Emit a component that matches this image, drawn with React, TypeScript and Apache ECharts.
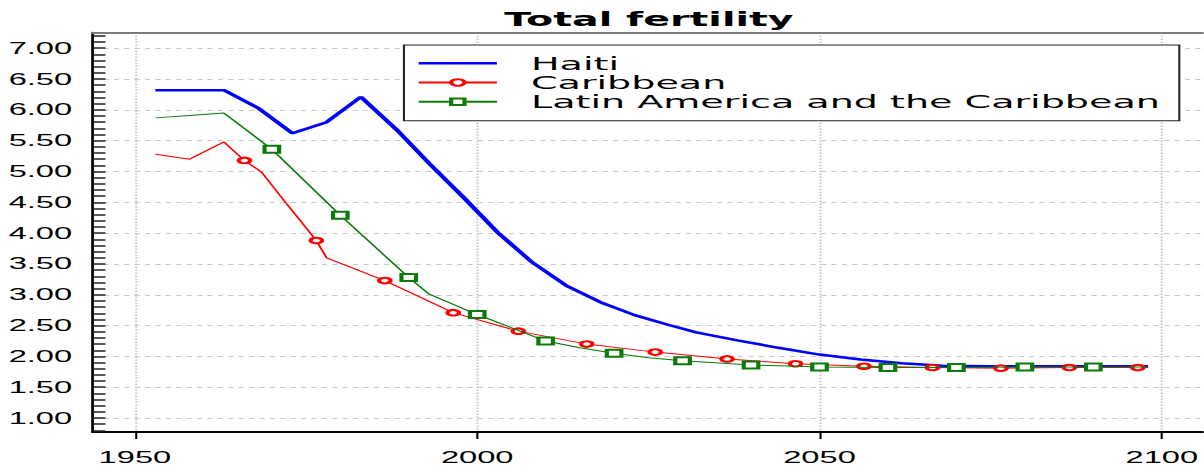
import React, { useEffect, useRef } from 'react';
import * as echarts from 'echarts';

// ---------- data ----------
const haitiYears = [1953, 1958, 1963, 1968, 1973, 1978, 1983, 1988.5, 1993, 1998, 2003, 2008, 2013, 2018, 2023, 2028, 2032, 2038, 2044, 2050, 2056, 2062, 2068, 2075, 2085, 2098];
const haitiTfr = [6.32, 6.32, 6.32, 6.03, 5.62, 5.8, 6.21, 5.65, 5.13, 4.58, 4.01, 3.53, 3.15, 2.88, 2.67, 2.51, 2.39, 2.26, 2.14, 2.03, 1.95, 1.89, 1.85, 1.84, 1.84, 1.84];

const caribYears = [1953, 1958, 1963, 1966, 1968.5, 1972, 1976.5, 1978, 1986.5, 1996.5, 2006, 2016, 2026, 2036.5, 2046.5, 2056.5, 2066.5, 2076.5, 2086.5, 2096.5, 2098];
const caribTfr = [5.28, 5.2, 5.48, 5.18, 4.99, 4.5, 3.88, 3.6, 3.23, 2.71, 2.41, 2.2, 2.07, 1.96, 1.88, 1.84, 1.82, 1.81, 1.82, 1.82, 1.82];
const caribMarkerYears = [1966, 1976.5, 1986.5, 1996.5, 2006, 2016, 2026, 2036.5, 2046.5, 2056.5, 2066.5, 2076.5, 2086.5, 2096.5];

const latamYears = [1953, 1958, 1963, 1970, 1980, 1990, 1993, 2000, 2010, 2015, 2020, 2025, 2030, 2040, 2050, 2060, 2070, 2080, 2090, 2098];
const latamTfr = [5.87, 5.91, 5.95, 5.36, 4.29, 3.28, 3.01, 2.68, 2.25, 2.14, 2.05, 1.98, 1.93, 1.86, 1.83, 1.82, 1.82, 1.83, 1.83, 1.83];
const latamMarkerYears = [1970, 1980, 1990, 2000, 2010, 2020, 2030, 2040, 2050, 2060, 2070, 2080, 2090];

const seriesNames = ['Haiti', 'Caribbean', 'Latin America and the Caribbean'];
const titleText = 'Total fertility';

const xTicks = [1950, 2000, 2050, 2100];
const yMajorTicks = [1, 1.5, 2, 2.5, 3, 3.5, 4, 4.5, 5, 5.5, 6, 6.5, 7];
const yMinorTicks = [
  0.8, 0.9, 1.0, 1.1, 1.2, 1.3, 1.4, 1.5, 1.6, 1.7, 1.8, 1.9, 2.0, 2.1, 2.2, 2.3, 2.4, 2.5, 2.6, 2.7,
  2.8, 2.9, 3.0, 3.1, 3.2, 3.3, 3.4, 3.5, 3.6, 3.7, 3.8, 3.9, 4.0, 4.1, 4.2, 4.3, 4.4, 4.5, 4.6, 4.7,
  4.8, 4.9, 5.0, 5.1, 5.2, 5.3, 5.4, 5.5, 5.6, 5.7, 5.8, 5.9, 6.0, 6.1, 6.2, 6.3, 6.4, 6.5, 6.6, 6.7,
  6.8, 6.9, 7.0, 7.1, 7.2,
];

// ---------- layout ----------
const SX = 2.08; // horizontal stretch of the reference
const W = 579;
const H = 465;
const X_MIN = 1943.875;
const X_MAX = 2105.88;
const Y_MIN = 0.774;
const Y_MAX = 7.255;

const labelFont = 'Liberation Sans, Arial, sans-serif';

function buildOption() {
  const gridDef = { left: 44.7, right: 0, top: 32.5, bottom: 31 };
  return {
    animation: false,
    backgroundColor: '#fff',
    grid: gridDef,
    graphic: [
      {
        type: 'text',
        x: 312,
        y: 19.5,
        style: {
          text: titleText,
          fontFamily: 'DejaVu Sans',
          fontWeight: 'bold',
          fontSize: 19,
          fill: '#000',
          align: 'center',
          verticalAlign: 'middle',
        },
        z: 10,
      },
    ],
    legend: {
      orient: 'vertical',
      left: 194.2,
      top: 45,
      padding: [8.7, 9.6, 9.4, 6.1],
      itemWidth: 37.6,
      itemHeight: 8,
      itemGap: 0,
      borderColor: '#222',
      borderWidth: 1,
      backgroundColor: '#fff',
      textStyle: {
        fontFamily: 'DejaVu Sans',
        fontSize: 18.3,
        color: '#000',
        lineHeight: 19.2,
        padding: [0, 0, 0, 11.4],
      },
      data: [
        { name: seriesNames[0], icon: 'path://M0,0H37.6V2.5H0Z' },
        { name: seriesNames[1] },
        { name: seriesNames[2] },
      ],
    },
    xAxis: [
      {
        type: 'value',
        min: X_MIN,
        max: X_MAX,
        position: 'bottom',
        axisLine: { show: true, onZero: false, lineStyle: { color: '#000', width: 2 } },
        axisTick: { show: true, inside: false, length: 7, customValues: xTicks, lineStyle: { color: '#000', width: 1 } },
        axisLabel: {
          show: true,
          customValues: xTicks,
          margin: 17,
          fontFamily: labelFont,
          fontSize: 15.7,
          color: '#000',
          formatter: (v: number) => String(v),
        },
        splitLine: { show: true, lineStyle: { color: '#c8c8c8', type: [1.5, 1.5], width: 1 } },
      },
      {
        type: 'value',
        min: X_MIN,
        max: X_MAX,
        position: 'top',
        axisLine: { show: true, onZero: false, lineStyle: { color: '#7a7a7a', width: 2 } },
        axisTick: { show: false },
        axisLabel: { show: false },
        splitLine: { show: false },
      },
    ],
    yAxis: [
      {
        type: 'value',
        min: Y_MIN,
        max: Y_MAX,
        position: 'left',
        axisLine: { show: true, onZero: false, lineStyle: { color: '#000', width: 1.3 } },
        axisTick: { show: true, inside: true, length: 6, customValues: yMinorTicks, lineStyle: { color: '#222', width: 1.5 } },
        axisLabel: {
          show: true,
          customValues: yMajorTicks,
          margin: 10,
          fontFamily: labelFont,
          fontSize: 15.7,
          color: '#000',
          formatter: (v: number) => v.toFixed(2),
        },
        splitLine: { show: false },
      },
      {
        type: 'value',
        min: Y_MIN,
        max: Y_MAX,
        position: 'left',
        axisLine: { show: false },
        axisTick: { show: false, customValues: yMajorTicks },
        axisLabel: { show: false },
        splitLine: { show: true, lineStyle: { color: '#c8c8c8', type: [2.5, 2.5], width: 1 } },
      },
    ],
    series: [
      {
        name: seriesNames[0],
        type: 'line',
        xAxisIndex: 0,
        yAxisIndex: 0,
        symbol: 'none',
        showSymbol: false,
        lineStyle: { color: '#0000ff', width: 2.5 },
        itemStyle: { color: '#0000ff' },
        data: haitiYears.map((y, i) => [y, haitiTfr[i]]),
        z: 3,
      },
      {
        name: seriesNames[1],
        type: 'line',
        xAxisIndex: 0,
        yAxisIndex: 0,
        symbol: 'emptyCircle',
        symbolSize: 5.5,
        showSymbol: true,
        showAllSymbol: true,
        lineStyle: { color: '#ff0000', width: 1 },
        itemStyle: { color: '#ff0000', borderColor: '#ff0000', borderWidth: 1 },
        data: caribYears.map((y, i) => ({
          value: [y, caribTfr[i]],
          symbol: caribMarkerYears.includes(y) ? 'emptyCircle' : 'none',
        })),
        z: 4,
      },
      {
        name: seriesNames[2],
        type: 'line',
        xAxisIndex: 0,
        yAxisIndex: 0,
        symbol: 'emptyRect',
        symbolSize: 7,
        showSymbol: true,
        showAllSymbol: true,
        lineStyle: { color: '#0a7a0a', width: 1 },
        itemStyle: { color: '#0a7a0a', borderColor: '#0a7a0a', borderWidth: 1 },
        data: latamYears.map((y, i) => ({
          value: [y, latamTfr[i]],
          symbol: latamMarkerYears.includes(y) ? 'emptyRect' : 'none',
        })),
        z: 5,
      },
    ],
  };
}

export default function App() {
  const ref = useRef<HTMLDivElement>(null);
  useEffect(() => {
    if (!ref.current) return;
    const chart = echarts.init(ref.current, null, { renderer: 'svg' });
    chart.setOption(buildOption() as any);
    return () => chart.dispose();
  }, []);
  return (
    <div
      style={{
        position: 'absolute',
        left: 0,
        top: 0,
        width: 1204,
        height: 465,
        overflow: 'hidden',
        background: '#fff',
      }}
    >
      <div
        ref={ref}
        style={{ width: W, height: H, transform: `scaleX(${SX})`, transformOrigin: '0 0' }}
      />
    </div>
  );
}
